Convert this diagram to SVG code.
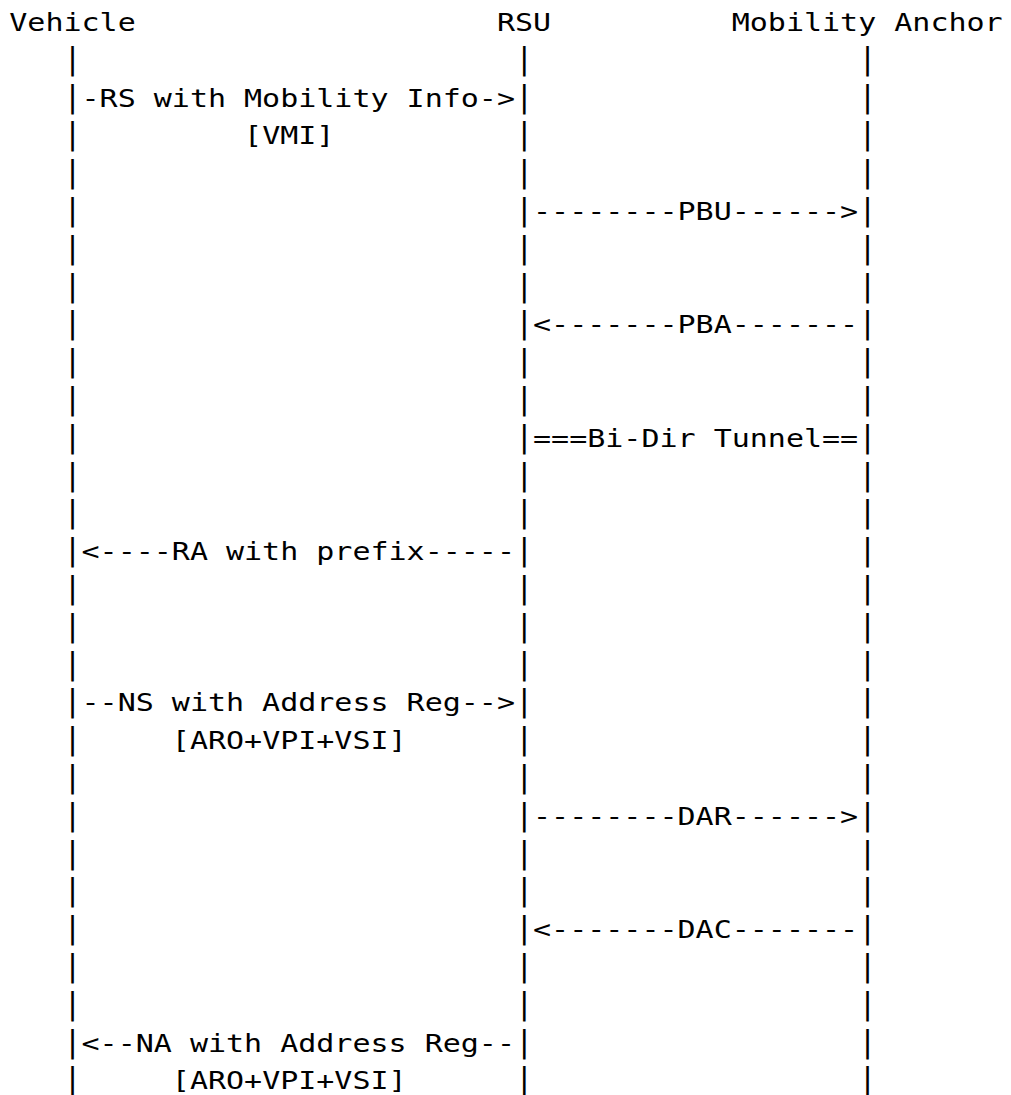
<svg xmlns="http://www.w3.org/2000/svg" width="1011" height="1095" viewBox="0 0 1011 1095">
<style>
text { font-family: "DejaVu Sans Mono", "Liberation Mono", monospace; fill: #000; }
.t { font-size: 25px; }
.bar { font-size: 30px; }
</style>
<rect width="1011" height="1095" fill="#fff"/>
<g id="vehicle">
  <g transform="scale(1.2,1)"><text class="t" x="7.75" y="31">Vehicle</text></g>
  <text class="bar" x="63.47 63.47 63.47 63.47 63.47 63.47 63.47 63.47 63.47 63.47 63.47 63.47 63.47 63.47 63.47 63.47 63.47 63.47 63.47 63.47 63.47 63.47 63.47 63.47 63.47 63.47 63.47 63.47" y="68.8 106.6 144.4 182.2 220 257.8 295.6 333.4 371.2 409 446.8 484.6 522.4 560.2 598 635.8 673.6 711.4 749.2 787 824.8 862.6 900.4 938.2 976 1013.8 1051.6 1089.4">||||||||||||||||||||||||||||</text>
</g>
<g id="rsu">
  <g transform="scale(1.2,1)"><text class="t" x="414.13" y="31">RSU</text></g>
  <text class="bar" x="515.17 515.17 515.17 515.17 515.17 515.17 515.17 515.17 515.17 515.17 515.17 515.17 515.17 515.17 515.17 515.17 515.17 515.17 515.17 515.17 515.17 515.17 515.17 515.17 515.17 515.17 515.17 515.17" y="68.8 106.6 144.4 182.2 220 257.8 295.6 333.4 371.2 409 446.8 484.6 522.4 560.2 598 635.8 673.6 711.4 749.2 787 824.8 862.6 900.4 938.2 976 1013.8 1051.6 1089.4">||||||||||||||||||||||||||||</text>
</g>
<g id="mobility-anchor">
  <g transform="scale(1.2,1)"><text class="t" x="609.79" y="31">Mobility Anchor</text></g>
  <text class="bar" x="858.57 858.57 858.57 858.57 858.57 858.57 858.57 858.57 858.57 858.57 858.57 858.57 858.57 858.57 858.57 858.57 858.57 858.57 858.57 858.57 858.57 858.57 858.57 858.57 858.57 858.57 858.57 858.57" y="68.8 106.6 144.4 182.2 220 257.8 295.6 333.4 371.2 409 446.8 484.6 522.4 560.2 598 635.8 673.6 711.4 749.2 787 824.8 862.6 900.4 938.2 976 1013.8 1051.6 1089.4">||||||||||||||||||||||||||||</text>
</g>
<g id="connectors" transform="scale(1.2,1)">
  <text class="t" x="67.95" y="106.6">-RS with Mobility Info-&gt;</text>
  <text class="t" x="203.41" y="144.4">[VMI]</text>
  <text class="t" x="444.23" y="220">--------PBU------&gt;</text>
  <text class="t" x="444.23" y="333.4">&lt;-------PBA-------</text>
  <text class="t" x="444.23" y="446.8">===Bi-Dir Tunnel==</text>
  <text class="t" x="67.95" y="560.2">&lt;----RA with prefix-----</text>
  <text class="t" x="67.95" y="711.4">--NS with Address Reg--&gt;</text>
  <text class="t" x="143.21" y="749.2">[ARO+VPI+VSI]</text>
  <text class="t" x="444.23" y="824.8">--------DAR------&gt;</text>
  <text class="t" x="444.23" y="938.2">&lt;-------DAC-------</text>
  <text class="t" x="67.95" y="1051.6">&lt;--NA with Address Reg--</text>
  <text class="t" x="143.21" y="1089.4">[ARO+VPI+VSI]</text>
</g>
</svg>
